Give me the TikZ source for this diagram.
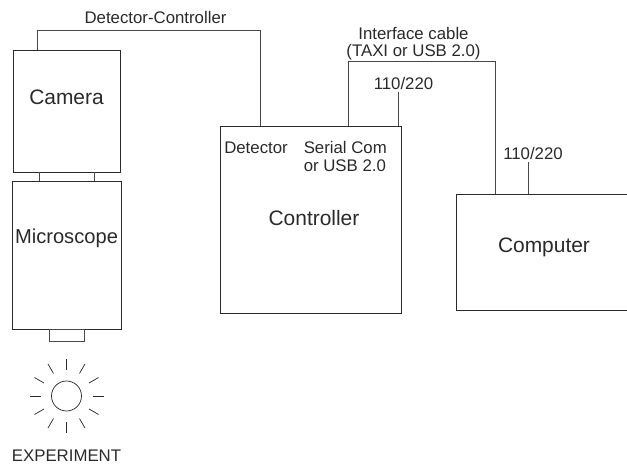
\documentclass[tikz,border=0pt]{standalone}
\usepackage{fontspec}
\setmainfont{Liberation Sans}
\definecolor{ink}{HTML}{2A2A2A}
\definecolor{wire}{HTML}{484848}
\tikzset{
  px/.style={x=0.75pt,y=-0.75pt},
  boxshape/.style={draw=ink,line width=0.65pt,inner sep=0pt,outer sep=0pt,anchor=north west},
  wireline/.style={draw=wire,line width=0.7pt},
  biglabel/.style={text=ink,font=\fontsize{15.7}{17}\selectfont,inner sep=0pt},
  smalllabel/.style={text=ink,font=\fontsize{12.6}{12.8}\selectfont,inner sep=0pt,align=left},
  ray/.style={draw=ink,line width=0.55pt}
}
\begin{document}
\begin{tikzpicture}[px]
\useasboundingbox (0,0) rectangle (627,466);
\clip (0,0) rectangle (627,466);
% boxes
\node[boxshape,minimum width=80.25pt,minimum height=91.5pt] (camera) at (13,50.5) {};
\node[boxshape,minimum width=82pt,minimum height=111pt] (microscope) at (12,181.5) {};
\node[boxshape,minimum width=135.75pt,minimum height=140.75pt] (controller) at (220.5,126) {};
\node[boxshape,minimum width=134.6pt,minimum height=87.5pt] (computer) at (456.5,194) {};
\node[boxshape,draw=wire,line width=0.6pt,minimum width=26.25pt,minimum height=9pt] (port) at (49,329) {};
\node[draw=ink,line width=0.55pt,circle,minimum size=22.5pt,inner sep=0pt] (lamp) at (66.5,396) {};
% labels
\node[biglabel] (tcamera) at (66.5,97) {Camera};
\node[biglabel,font=\fontsize{15.1}{17}\selectfont] (tmicro) at (66.5,238.5) {Microscope};
\node[biglabel] (tcontroller) at (314,218.5) {Controller};
\node[biglabel] (tcomputer) at (544,247.5) {Computer};
\node[smalllabel] (tdc) at (155.5,18) {Detector-Controller};
\node[smalllabel,anchor=west] (tdet) at (224,148) {Detector};
\node[smalllabel,anchor=west] (tserial) at (303.5,156.5) {Serial Com\\or USB 2.0};
\node[smalllabel,align=center] (tiface) at (413.5,44) {Interface cable\\(TAXI or USB 2.0)};
\node[smalllabel] (tva) at (403.5,83.5) {110/220};
\node[smalllabel] (tvb) at (533,153.5) {110/220};
\node[smalllabel] (texp) at (66.5,456) {EXPERIMENT};
% connection points
\coordinate (camtop) at (37.5,50.5);
\coordinate (ctrldet) at (260,126);
\coordinate (ctrlser) at (348,126);
\coordinate (ctrlpow) at (398.5,126);
\coordinate (comptop) at (495.5,194);
\coordinate (comppow) at (528,194);
\coordinate (powa) at (398.5,92.5);
\coordinate (powb) at (528,162);
\coordinate (camL) at (39.5,172.5);
\coordinate (camR) at (94,172.5);
\coordinate (micL) at (39.5,181.5);
\coordinate (micR) at (94,181.5);
% connectors
\draw[wireline] (camtop) -- ++(0,-20.5) -| (ctrldet);
\draw[wireline] (ctrlser) -- ++(0,-65) -| (comptop);
\draw[wireline] (ctrlpow) -- (powa);
\draw[wireline] (comppow) -- (powb);
\draw[wireline] (camL) -- (micL);
\draw[wireline] (camR) -- (micR);
% rays
\foreach \a in {0,30,...,330}
  \draw[ray] (lamp.center) ++(\a:26) -- ++(\a:11);
\end{tikzpicture}
\end{document}
